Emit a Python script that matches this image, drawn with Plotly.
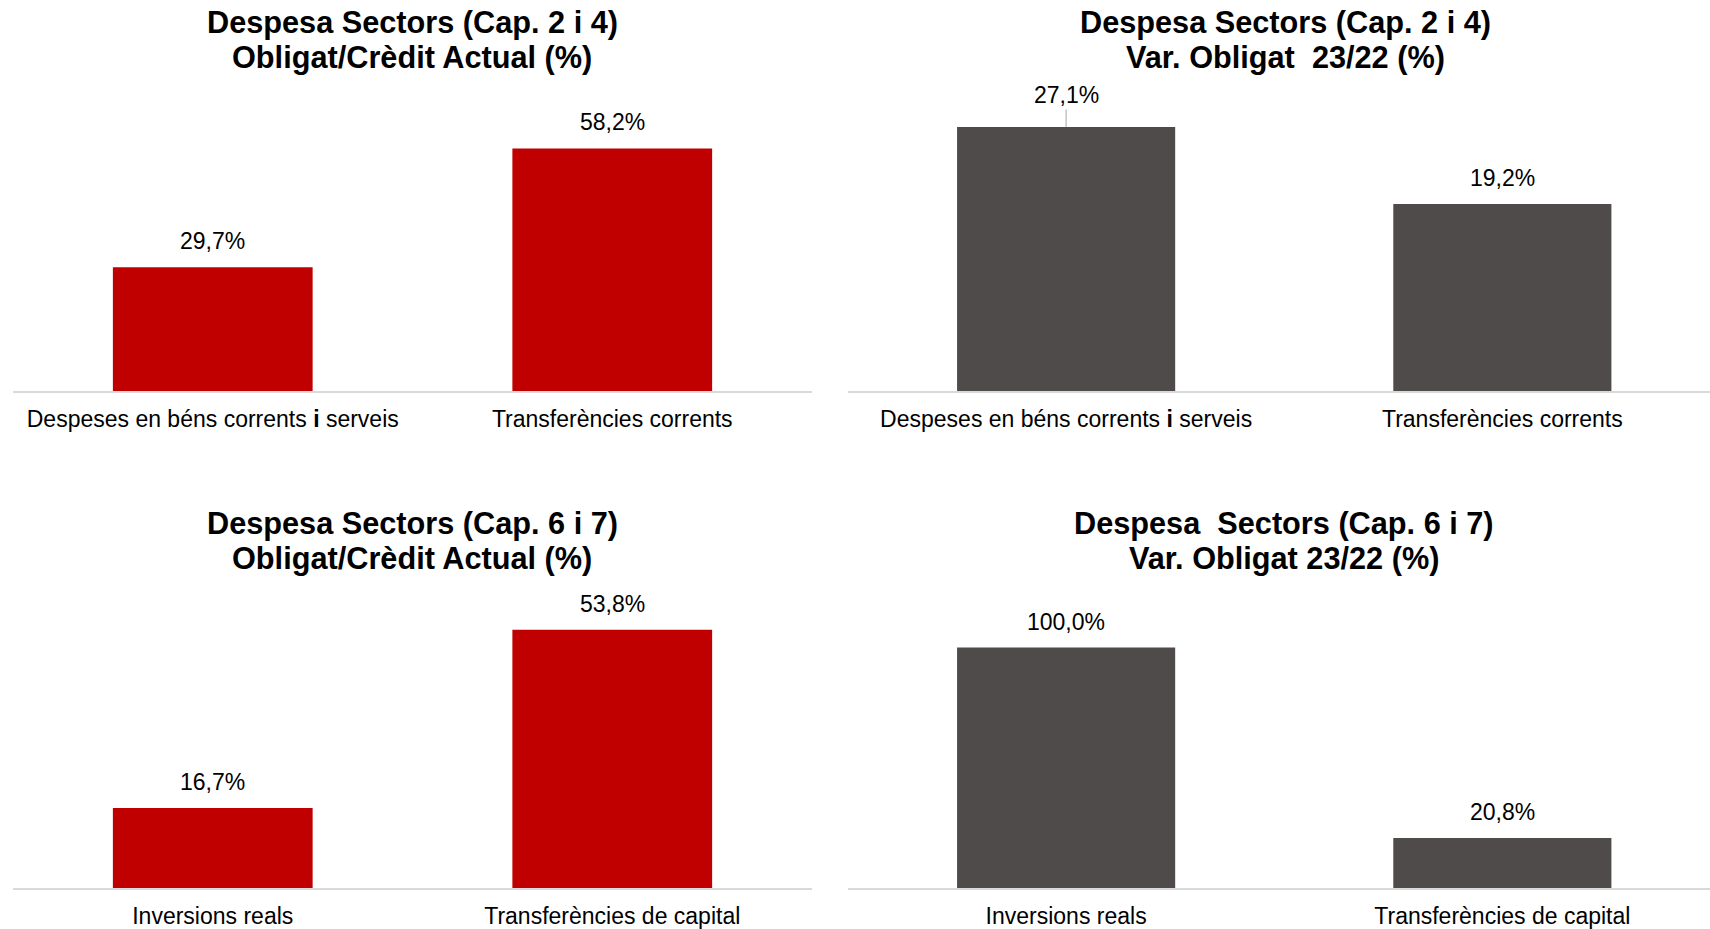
import plotly.graph_objects as go
from plotly.subplots import make_subplots

# ---------------- data ----------------
cats_cap24 = ["Despeses en béns corrents <b>i</b> serveis", "Transferències corrents"]
cats_cap67 = ["Inversions reals", "Transferències de capital"]

obl_cred_cap24 = [29.7, 58.2]
var_obl_cap24 = [27.1, 19.2]
obl_cred_cap67 = [16.7, 53.8]
var_obl_cap67 = [100.0, 20.8]

titles = [
    ("Despesa Sectors (Cap. 2 i 4)", "Obligat/Crèdit Actual (%)"),
    ("Despesa Sectors (Cap. 2 i 4)", "Var. Obligat \u00a023/22 (%)"),
    ("Despesa Sectors (Cap. 6 i 7)", "Obligat/Crèdit Actual (%)"),
    ("Despesa \u00a0Sectors (Cap. 6 i 7)", "Var. Obligat 23/22 (%)"),
]

# ---------------- style ----------------
W, H = 1710, 929
RED = "#C00000"
GREY = "#4F4B4B"
AXIS = "#D9D9D9"
FONT = "Arial, Liberation Sans, sans-serif"

def fx(px):
    return px / W

def fy(py):
    return 1 - py / H

def fmt(v):
    return f"{v:.1f}".replace(".", ",") + "%"

panels = [
    # cats, values, color, x-domain px, y-domain px (top, bottom), y max, x range
    (cats_cap24, obl_cred_cap24, RED, (13, 812), (90, 392), 302 / 4.18, [-0.5, 1.5]),
    (cats_cap24, var_obl_cap24, GREY, (848, 1710), (90, 392), 302 / 9.77, [-0.5, 1.476]),
    (cats_cap67, obl_cred_cap67, RED, (13, 812), (588, 890), 302 / 4.81, [-0.5, 1.5]),
    (cats_cap67, var_obl_cap67, GREY, (848, 1710), (588, 890), 302 / 2.41, [-0.5, 1.476]),
]

title_pos = [(412, 23, 58), (1285, 23, 58), (412, 525, 560), (1284, 525, 560)]

fig = make_subplots(rows=2, cols=2)

annotations = []
for i, (cats, vals, col, xd, yd, ymax, xr) in enumerate(panels):
    r, c = i // 2 + 1, i % 2 + 1
    fig.add_trace(
        go.Bar(x=cats, y=vals, marker=dict(color=col, line=dict(width=0)),
               showlegend=False, hoverinfo="skip"),
        row=r, col=c,
    )
    ax_id = "" if i == 0 else str(i + 1)
    fig.layout[f"xaxis{ax_id}"].update(
        domain=[fx(xd[0]), fx(xd[1])],
        range=xr,
        showline=True, linecolor=AXIS, linewidth=2,
        showgrid=False, zeroline=False, ticks="",
        tickfont=dict(family=FONT, size=23, color="#000000"),
        ticklabelstandoff=6,
        fixedrange=True,
    )
    fig.layout[f"yaxis{ax_id}"].update(
        domain=[fy(yd[1]), fy(yd[0])],
        range=[0, ymax],
        visible=False, showgrid=False, zeroline=False,
        fixedrange=True,
    )
    xref = f"x{ax_id}"
    yref = f"y{ax_id}"
    for j, (cat, v) in enumerate(zip(cats, vals)):
        if i == 1 and j == 0:
            annotations.append(dict(
                x=cat, y=v, xref=xref, yref=yref, text=fmt(v),
                showarrow=True, ax=0, ay=-32, arrowhead=0, arrowwidth=1,
                arrowcolor="#A6A6A6", standoff=0,
                font=dict(family=FONT, size=23, color="#000000"),
            ))
        else:
            annotations.append(dict(
                x=cat, y=v, xref=xref, yref=yref, text=fmt(v),
                showarrow=False, yanchor="middle", xanchor="center", yshift=26,
                font=dict(family=FONT, size=23, color="#000000"),
            ))
    # titles (two lines)
    tx, ty1, ty2 = title_pos[i]
    for line, ty in zip(titles[i], (ty1, ty2)):
        annotations.append(dict(
            x=fx(tx), y=fy(ty), xref="paper", yref="paper",
            text=f"<b>{line}</b>", showarrow=False,
            xanchor="center", yanchor="middle",
            font=dict(family=FONT, size=30.7, color="#000000"),
        ))

fig.update_layout(
    width=W, height=H,
    margin=dict(l=0, r=0, t=0, b=0, pad=0),
    paper_bgcolor="#FFFFFF",
    plot_bgcolor="#FFFFFF",
    bargap=0.5,
    annotations=annotations,
    font=dict(family=FONT, color="#000000"),
)

fig.write_html(
    "out.html",
    config={"displayModeBar": False},
    post_script=(
        "var s=document.createElement('style');"
        "s.textContent='html,body{margin:0;padding:0;width:1710px;height:929px;overflow:hidden;}';"
        "document.head.appendChild(s);"
    ),
)
